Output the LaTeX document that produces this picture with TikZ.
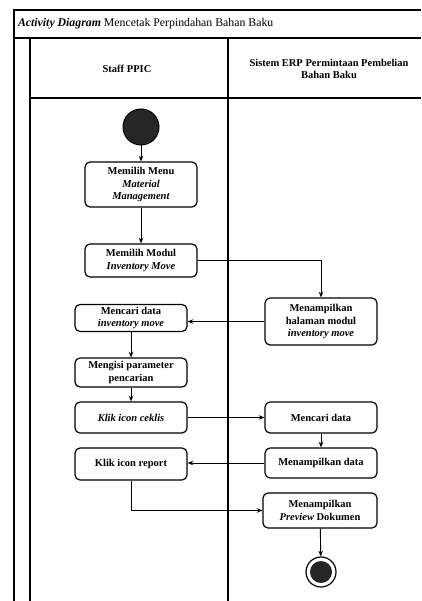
\documentclass[tikz,border=0pt]{standalone}
\usepackage{fontspec}
\setmainfont{Liberation Serif}
\usetikzlibrary{arrows.meta}

\begin{document}
\begin{tikzpicture}[
    x=1pt, y=-1pt,
    font=\fontsize{10.5}{12.5}\selectfont\bfseries,
    >={Stealth[length=2mm,width=1.6mm]},
    lane/.style={line width=1.5pt},
    act/.style={draw, line width=1.2pt, rounded corners=5pt, align=center,
      minimum width=112pt, inner sep=2pt},
    flow/.style={->, line width=0.9pt},
  ]
  \useasboundingbox (0,0) rectangle (421,601);
  %% ---- frame and swimlanes -------------------------------------------
  \draw[lane] (421,10) -- (14,10) -- (14,601);
  \draw[lane] (14,38) -- (421,38);
  \draw[lane] (30,601) -- (30,38);
  \draw[lane] (30,98) -- (421,98);
  \draw[lane] (228,38) -- (228,601);
  \node[anchor=west, font=\fontsize{11.8}{13}\selectfont] (judul) at (14.5,24)
    {\textbf{\textit{Activity Diagram}} Mencetak Perpindahan Bahan Baku};
  \node (staff) at (127,69) {Staff PPIC};
  \node[align=center] (erp) at (329,69) {Sistem ERP Permintaan Pembelian\\Bahan Baku};

  %% ---- lane Staff PPIC -----------------------------------------------
  \node[circle, fill=black!85, draw, line width=1pt, minimum size=36pt, inner sep=0pt] (mulai) at (141,127) {};
  \node[act, minimum height=45pt] (menu) at (141,184.5) {Memilih Menu\\\textit{Material}\\\textit{Management}};
  \node[act, minimum height=33pt] (modul) at (141,260.5) {Memilih Modul\\\textit{Inventory Move}};
  \node[act, minimum height=27pt] (caridata) at (131,318) {Mencari data\\\textit{inventory move}};
  \node[act, minimum height=29pt] (isi) at (131,372.5) {Mengisi parameter\\pencarian};
  \node[act, minimum height=31pt] (ceklis) at (131,417.5) {\textit{Klik icon ceklis}};
  \node[act, minimum height=32pt] (report) at (131,464) {Klik icon report};

  %% ---- lane Sistem ERP -----------------------------------------------
  \node[act, minimum height=47pt] (halaman) at (321,321.5) {Menampilkan\\halaman modul\\\textit{inventory move}};
  \node[act, minimum height=31pt] (cari) at (321,417.5) {Mencari data};
  \node[act, minimum height=30pt] (tampil) at (321,463) {Menampilkan data};
  \node[act, minimum height=35pt, minimum width=114pt] (preview) at (320,510.5) {Menampilkan\\\textit{Preview} Dokumen};
  \node[circle, draw, line width=1.2pt, minimum size=30pt, inner sep=0pt] (selesai) at (321,572) {};
  \node[circle, fill=black!85, minimum size=22pt, inner sep=0pt] (selesaiin) at (selesai) {};

  %% ---- flows ----------------------------------------------------------
  \draw[flow] (mulai) -- (menu);
  \draw[flow] (menu) -- (modul);
  \draw[flow] (modul.east) -| (halaman.north);
  \draw[flow] (halaman.west) -- (halaman.west -| caridata.east);
  \draw[flow] (caridata) -- (isi);
  \draw[flow] (isi) -- (ceklis);
  \draw[flow] (ceklis) -- (cari);
  \draw[flow] (cari) -- (tampil);
  \draw[flow] (tampil.west) -- (tampil.west -| report.east);
  \draw[flow] (report.south) |- (preview.west);
  \draw[flow] (preview) -- (selesai);
\end{tikzpicture}
\end{document}
